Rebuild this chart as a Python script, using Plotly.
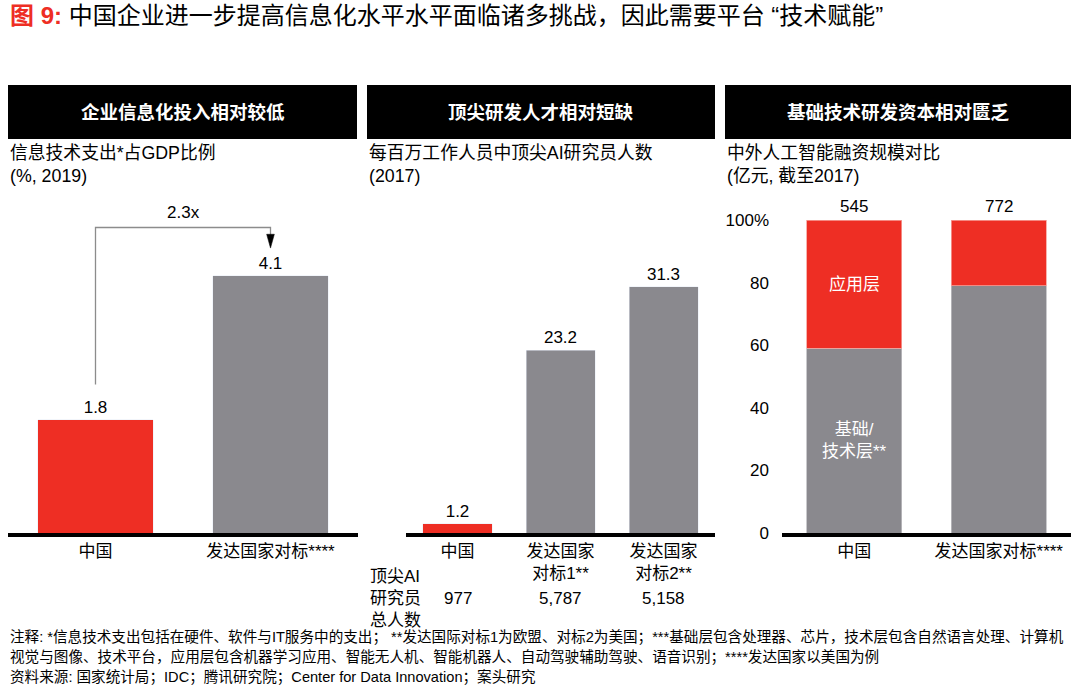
import plotly.graph_objects as go

W, H = 1080, 689
RED = "#EE2E24"
GRAY = "#8A898E"
FONT = "Liberation Sans, Arial, Noto Sans CJK SC, sans-serif"

# ---- data ----
p1_categories = ["中国", "发达国家对标****"]
p1_values = [1.8, 4.1]
p1_ratio_label = "2.3x"

p2_categories = ["中国", "发达国家<br>对标1**", "发达国家<br>对标2**"]
p2_values = [1.2, 23.2, 31.3]
p2_totals = ["977", "5,787", "5,158"]
p2_row_label = "顶尖AI<br>研究员<br>总人数"

p3_categories = ["中国", "发达国家对标****"]
p3_base_tech = [59, 79]
p3_application = [41, 21]
p3_totals = ["545", "772"]
p3_ticks = [0, 20, 40, 60, 80, 100]
p3_ticktext = ["0", "20", "40", "60", "80", "100%"]

headers = ["企业信息化投入相对较低", "顶尖研发人才相对短缺", "基础技术研发资本相对匮乏"]
subtitles = ["信息技术支出*占GDP比例<br>(%, 2019)",
             "每百万工作人员中顶尖AI研究员人数<br>(2017)",
             "中外人工智能融资规模对比<br>(亿元, 截至2017)"]
title_prefix = "图 9:"
title_text = " 中国企业进一步提高信息化水平水平面临诸多挑战，因此需要平台 “技术赋能”"
notes = [
    "注释: *信息技术支出包括在硬件、软件与IT服务中的支出； **发达国际对标1为欧盟、对标2为美国；***基础层包含处理器、芯片，技术层包含自然语言处理、计算机",
    "视觉与图像、技术平台，应用层包含机器学习应用、智能无人机、智能机器人、自动驾驶辅助驾驶、语音识别；****发达国家以美国为例",
    "资料来源: 国家统计局；IDC；腾讯研究院；Center for Data Innovation；案头研究",
]


def px_x(v):
    return v / W


def px_y(v):
    return 1 - v / H


fig = go.Figure()

# Panel 1
fig.add_trace(go.Bar(x=p1_categories, y=p1_values, marker_color=[RED, GRAY],
                     width=0.66, text=[f"{v:.1f}" for v in p1_values],
                     textposition="outside", textfont=dict(size=17, color="black"),
                     cliponaxis=False, xaxis="x", yaxis="y", showlegend=False))
# Panel 2
fig.add_trace(go.Bar(x=p2_categories, y=p2_values, marker_color=[RED, GRAY, GRAY],
                     width=0.67, text=[f"{v:.1f}" for v in p2_values],
                     textposition="outside", textfont=dict(size=17, color="black"),
                     cliponaxis=False, xaxis="x2", yaxis="y2", showlegend=False))
# Panel 3
fig.add_trace(go.Bar(x=p3_categories, y=p3_base_tech, marker_color=GRAY, width=0.66,
                     marker_line=dict(width=0.8, color="#BDBDC0"),
                     xaxis="x3", yaxis="y3", showlegend=False))
fig.add_trace(go.Bar(x=p3_categories, y=p3_application, marker_color=RED, width=0.66,
                     marker_line=dict(width=0.8, color="#F5A09A"),
                     xaxis="x3", yaxis="y3", showlegend=False))

y_top_px, y_base_px = 190, 533
ydom = [px_y(y_base_px), px_y(y_top_px)]
p1_range = (y_base_px - y_top_px) / 62.8
p2_range = (y_base_px - y_top_px) / 7.87
p3_range = (y_base_px - y_top_px) / 3.13

xaxis_common = dict(showline=True, linewidth=3.5, linecolor="black", ticks="",
                    showgrid=False, zeroline=False, automargin=False,
                    tickfont=dict(size=17, color="black"), fixedrange=True)
yaxis_hidden = dict(visible=False, showgrid=False, zeroline=False, automargin=False)

fig.update_layout(
    width=W, height=H,
    margin=dict(l=0, r=0, t=0, b=0),
    paper_bgcolor="white", plot_bgcolor="white",
    font=dict(family=FONT, color="black", size=17),
    barmode="stack",
    xaxis=dict(domain=[px_x(8), px_x(358)], range=[-0.5, 1.5], anchor="y", **xaxis_common),
    yaxis=dict(domain=ydom, range=[0, p1_range], anchor="x", **yaxis_hidden),
    xaxis2=dict(domain=[px_x(406), px_x(715)], range=[-0.5, 2.5], anchor="y2", **xaxis_common),
    yaxis2=dict(domain=ydom, range=[0, p2_range], anchor="x2", **yaxis_hidden),
    xaxis3=dict(domain=[px_x(782), px_x(1071)], range=[-0.5, 1.5], anchor="y3", **xaxis_common),
    yaxis3=dict(domain=ydom, range=[0, p3_range], anchor="x3", showgrid=False, zeroline=False,
                showline=False, automargin=False, tickvals=p3_ticks, ticktext=p3_ticktext,
                ticks="", ticklabelstandoff=12, tickfont=dict(size=17, color="black")),
)

annotations = []
shapes = []

# Title
annotations.append(dict(xref="paper", yref="paper", x=px_x(8), y=px_y(15), xanchor="left",
                        yanchor="middle", showarrow=False,
                        text=f"<span style='color:{RED}'><b>{title_prefix}</b></span>{title_text}",
                        font=dict(size=24, color="black")))

# Header boxes and subtitles
boxes = [(8, 357), (367, 715), (725, 1071)]
for (x0, x1), h, s in zip(boxes, headers, subtitles):
    shapes.append(dict(type="rect", xref="paper", yref="paper", x0=px_x(x0), x1=px_x(x1),
                       y0=px_y(139), y1=px_y(85), fillcolor="black", line=dict(width=0),
                       layer="below"))
    annotations.append(dict(xref="paper", yref="paper", x=px_x((x0 + x1) / 2), y=px_y(112),
                            text=f"<b>{h}</b>", showarrow=False, xanchor="center",
                            yanchor="middle", font=dict(size=18.5, color="white")))
    annotations.append(dict(xref="paper", yref="paper", x=px_x(x0), y=px_y(141),
                            text=s, showarrow=False, xanchor="left", yanchor="top",
                            align="left", font=dict(size=17.8, color="black")))

# Panel 1 bracket
left_y = p1_values[0] + 0.045 * p1_range * 2.3
top_y = max(p1_values) + 0.14 * p1_range
tip_y = p1_values[1] + 0.08 * p1_range
shapes.append(dict(type="path", xref="x", yref="y",
                   path=f"M 0,{left_y} L 0,{top_y} L 1,{top_y} L 1,{tip_y + 0.2}",
                   line=dict(color="#8C8C8C", width=1.3)))
shapes.append(dict(type="path", xref="x", yref="y",
                   path=f"M 0.978,{tip_y + 0.22} L 1.022,{tip_y + 0.22} L 1,{tip_y} Z",
                   fillcolor="black", line=dict(color="black", width=0.5)))
annotations.append(dict(xref="x", yref="y", x=0.5, y=top_y, yanchor="bottom", yshift=4,
                        text=p1_ratio_label, showarrow=False, font=dict(size=17)))

# Panel 2 table
annotations.append(dict(xref="paper", yref="paper", x=px_x(368), y=px_y(598),
                        text=p2_row_label, showarrow=False, xanchor="left", yanchor="middle",
                        align="left", font=dict(size=17)))
for i, t in enumerate(p2_totals):
    annotations.append(dict(xref="x2", yref="paper", x=i, y=px_y(598), text=t,
                            showarrow=False, xanchor="center", yanchor="middle",
                            font=dict(size=17)))

# Panel 3 labels
for i, t in enumerate(p3_totals):
    annotations.append(dict(xref="x3", yref="y3", x=i,
                            y=p3_base_tech[i] + p3_application[i], yanchor="bottom", yshift=2,
                            text=t, showarrow=False, font=dict(size=17)))
annotations.append(dict(xref="x3", yref="y3", x=0, y=p3_base_tech[0] + p3_application[0] / 2,
                        text="应用层", showarrow=False, font=dict(size=17, color="white")))
annotations.append(dict(xref="x3", yref="y3", x=0, y=p3_base_tech[0] / 2,
                        text="基础/<br>技术层**", showarrow=False,
                        font=dict(size=17, color="white")))

# Notes
for i, n in enumerate(notes):
    annotations.append(dict(xref="paper", yref="paper", x=px_x(8), y=px_y(637 + 20 * i),
                            text=n, showarrow=False, xanchor="left", yanchor="middle",
                            align="left", font=dict(size=14.6, color="black")))

fig.update_layout(annotations=annotations, shapes=shapes)
fig.write_html("out.html", config={"displayModeBar": False},
               post_script="document.body.style.margin='0';document.body.style.overflow='hidden';")
